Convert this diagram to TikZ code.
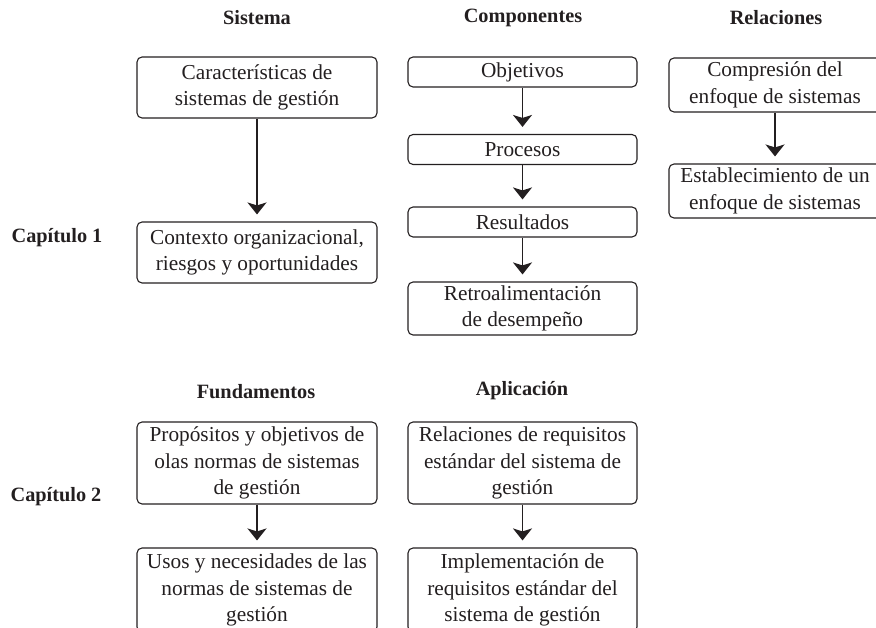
\documentclass[tikz,border=0pt]{standalone}
\usepackage{fontspec}
\setmainfont{Liberation Serif}
\usetikzlibrary{arrows.meta}
\definecolor{ink}{HTML}{231F20}
\begin{document}
\begin{tikzpicture}[x=1pt,y=-1pt,
  box/.style={draw=ink,line width=1.1pt,rounded corners=5pt,align=center,
    text=ink,font=\fontsize{21.3}{26.5}\selectfont,inner sep=0pt},
  boxw/.style={box,minimum width=240pt},
  boxn/.style={box,minimum width=229pt},
  boxr/.style={box,minimum width=212pt},
  ttl/.style={text=ink,font=\fontsize{20.3}{22}\selectfont\bfseries},
  arr/.style={draw=ink,line width=1.3pt,-{Stealth[length=12pt,width=19pt,inset=3pt]},shorten >=7pt}]
\path[use as bounding box,clip] (0,0) rectangle (876,628);
% titles
\node[ttl] (tA) at (257,18) {Sistema};
\node[ttl] (tB) at (523,18) {Componentes};
\node[ttl] (tC) at (776,18) {Relaciones};
\node[ttl] (tD) at (256,392) {Fundamentos};
\node[ttl] (tE) at (522,391) {Aplicación};
\node[ttl] (cap1) at (57,238) {Capítulo 1};
\node[ttl] (cap2) at (56,497) {Capítulo 2};
% Sistema
\node[boxw,minimum height=61pt] (a1) at (257,87.5) {Características de\\sistemas de gestión};
\node[boxw,minimum height=61pt] (a2) at (257,252.5) {Contexto organizacional,\\riesgos y oportunidades};
% Componentes
\node[boxn,minimum height=30pt] (b1) at (522.5,72) {Objetivos};
\node[boxn,minimum height=30pt] (b2) at (522.5,149.5) {Procesos};
\node[boxn,minimum height=30pt] (b3) at (522.5,222) {Resultados};
\node[boxn,minimum height=53pt] (b4) at (522.5,308.5) {Retroalimentación\\de desempeño};
% Relaciones
\node[boxr,minimum height=54pt] (c1) at (775,85) {Compresión del\\enfoque de sistemas};
\node[boxr,minimum height=54pt] (c2) at (775,191) {Establecimiento de un\\enfoque de sistemas};
% Fundamentos
\node[boxw,minimum height=82pt] (d1) at (257,463) {Propósitos y objetivos de\\olas normas de sistemas\\de gestión};
\node[boxw,minimum height=84pt] (d2) at (257,590) {Usos y necesidades de las\\normas de sistemas de\\gestión};
% Aplicacion
\node[boxn,minimum height=82pt] (e1) at (522.5,463) {Relaciones de requisitos\\estándar del sistema de\\gestión};
\node[boxn,minimum height=84pt] (e2) at (522.5,590) {Implementación de\\requisitos estándar del\\sistema de gestión};
% arrows
\draw[arr] (a1) -- (a2);
\draw[arr] (b1) -- (b2);
\draw[arr] (b2) -- (b3);
\draw[arr] (b3) -- (b4);
\draw[arr] (c1) -- (c2);
\draw[arr] (d1) -- (d2);
\draw[arr] (e1) -- (e2);
\end{tikzpicture}
\end{document}
